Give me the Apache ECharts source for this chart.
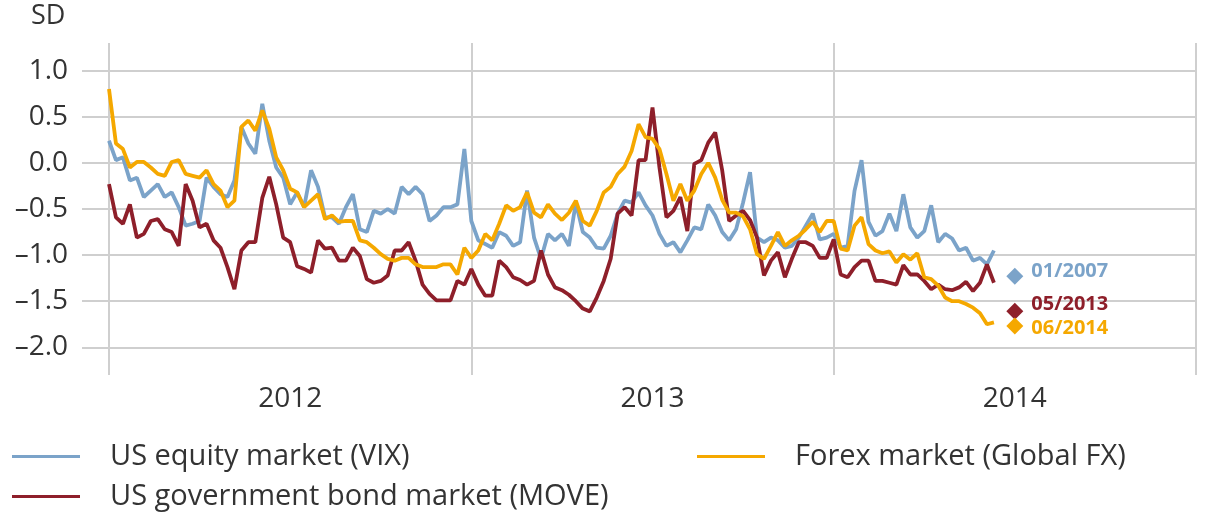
<!DOCTYPE html>
<html>
<head>
<meta charset="utf-8">
<script src="https://cdn.jsdelivr.net/npm/echarts@6/dist/echarts.min.js"></script>
<style>
html,body{margin:0;padding:0;background:#fff}
#main{width:1222px;height:515px}
</style>
</head>
<body>
<div id="main"></div>
<script>
// weekly readings, first week of 2012 onwards
var yearStart = 2012;
var weeksPerYear = 52;
var yTicks = [-2, -1.5, -1, -0.5, 0, 0.5, 1];
var yearTicks = [2012, 2013, 2014, 2015];
var yearLabelPos = [2012.5, 2013.5, 2014.5];

var vix = [
	0.24, 0.03, 0.06, -0.19, -0.16, -0.37, -0.30, -0.23, -0.37, -0.32,
	-0.48, -0.68, -0.66, -0.63, -0.16, -0.26, -0.34, -0.37, -0.19, 0.39,
	0.21, 0.10, 0.64, 0.24, -0.05, -0.16, -0.45, -0.32, -0.48, -0.08,
	-0.26, -0.59, -0.59, -0.66, -0.48, -0.34, -0.72, -0.75, -0.52, -0.55,
	-0.50, -0.55, -0.26, -0.34, -0.26, -0.34, -0.63, -0.57, -0.48, -0.48,
	-0.45, 0.15, -0.63, -0.84, -0.88, -0.92, -0.75, -0.79, -0.90, -0.86,
	-0.30, -0.81, -1.04, -0.77, -0.84, -0.77, -0.90, -0.43, -0.75, -0.81,
	-0.92, -0.93, -0.79, -0.55, -0.41, -0.43, -0.32, -0.46, -0.57, -0.77,
	-0.90, -0.86, -0.97, -0.84, -0.70, -0.72, -0.45, -0.57, -0.75, -0.84,
	-0.72, -0.43, -0.10, -0.81, -0.86, -0.81, -0.84, -0.92, -0.90, -0.81,
	-0.68, -0.55, -0.83, -0.81, -0.77, -0.92, -0.90, -0.30, 0.03, -0.64,
	-0.79, -0.74, -0.55, -0.74, -0.34, -0.70, -0.81, -0.74, -0.46, -0.86,
	-0.77, -0.82, -0.95, -0.92, -1.06, -1.03, -1.10, -0.95
];
var move = [
	-0.23, -0.59, -0.66, -0.45, -0.81, -0.77, -0.63, -0.61, -0.72, -0.75,
	-0.90, -0.23, -0.41, -0.70, -0.66, -0.84, -0.92, -1.13, -1.37, -0.95,
	-0.86, -0.86, -0.38, -0.15, -0.45, -0.81, -0.86, -1.12, -1.15, -1.19,
	-0.84, -0.93, -0.92, -1.06, -1.06, -0.92, -1.01, -1.26, -1.30, -1.28,
	-1.22, -0.95, -0.95, -0.86, -1.06, -1.32, -1.42, -1.49, -1.49, -1.49,
	-1.28, -1.32, -1.15, -1.32, -1.44, -1.44, -1.06, -1.13, -1.24, -1.27,
	-1.32, -1.28, -0.95, -1.21, -1.35, -1.38, -1.43, -1.50, -1.58, -1.61,
	-1.46, -1.28, -1.04, -0.55, -0.48, -0.57, 0.03, 0.03, 0.60, -0.05,
	-0.59, -0.52, -0.37, -0.74, -0.01, 0.03, 0.22, 0.33, -0.08, -0.63,
	-0.57, -0.52, -0.62, -0.81, -1.22, -1.06, -0.97, -1.24, -1.04, -0.86,
	-0.86, -0.90, -1.03, -1.03, -0.83, -1.21, -1.24, -1.13, -1.06, -1.06,
	-1.28, -1.28, -1.30, -1.32, -1.11, -1.21, -1.21, -1.28, -1.37, -1.32,
	-1.37, -1.38, -1.35, -1.29, -1.39, -1.30, -1.10, -1.30
];
var fx = [
	0.80, 0.21, 0.15, -0.05, 0.01, 0.01, -0.05, -0.12, -0.14, 0.01,
	0.03, -0.12, -0.14, -0.16, -0.08, -0.23, -0.30, -0.48, -0.41, 0.39,
	0.46, 0.35, 0.57, 0.37, 0.06, -0.08, -0.28, -0.32, -0.48, -0.41,
	-0.34, -0.61, -0.57, -0.64, -0.63, -0.63, -0.84, -0.86, -0.92, -0.99,
	-1.04, -1.06, -1.03, -1.03, -1.10, -1.13, -1.13, -1.13, -1.10, -1.10,
	-1.21, -0.92, -1.03, -0.95, -0.77, -0.84, -0.66, -0.46, -0.52, -0.48,
	-0.32, -0.54, -0.59, -0.45, -0.55, -0.62, -0.54, -0.41, -0.63, -0.68,
	-0.52, -0.32, -0.26, -0.12, -0.04, 0.13, 0.42, 0.28, 0.26, 0.15,
	-0.12, -0.41, -0.23, -0.41, -0.30, -0.12, 0.00, -0.16, -0.40, -0.54,
	-0.54, -0.58, -0.72, -0.99, -1.04, -0.90, -0.75, -0.90, -0.84, -0.79,
	-0.72, -0.64, -0.75, -0.63, -0.63, -0.93, -0.95, -0.68, -0.59, -0.88,
	-0.95, -0.98, -0.96, -1.08, -0.99, -1.05, -0.98, -1.24, -1.26, -1.33,
	-1.46, -1.50, -1.50, -1.53, -1.57, -1.63, -1.75, -1.73
];

// "highest since" markers at the right end
var peakX = 2014.5;
var peakValues = [-1.23, -1.61, -1.77];
var peakLabels = ['01/2007', '05/2013', '06/2014'];

var names = ['US equity market (VIX)', 'US government bond market (MOVE)', 'Forex market (Global FX)'];
var colors = ['#7ba3c9', '#8e1f2a', '#f5a800'];
var font = '"Open Sans", Roboto, sans-serif';

function toPoints(values){
	return values.map(function (v, i){
		return [yearStart + i / weeksPerYear, v];
	});
}

function lineSeries(idx, values){
	return {
		name: names[idx],
		type: 'line',
		data: toPoints(values),
		showSymbol: false,
		symbol: 'none',
		lineStyle: {color: colors[idx], width: 3.8},
		itemStyle: {color: colors[idx]},
		z: 2 + idx
	};
}

function legendAt(left, top, name){
	return {
		left: left,
		top: top,
		padding: 0,
		data: [name],
		icon: 'rect',
		itemWidth: 68,
		itemHeight: 3,
		selectedMode: false,
		textStyle: {fontSize: 29, color: '#333', fontFamily: font, padding: [0, 0, 0, 25]}
	};
}

var labelOffsets = [[0, -5], [0, -7], [0, 2]];
var peakData = peakValues.map(function (v, i){
	return {
		name: peakLabels[i],
		value: [peakX, v],
		itemStyle: {color: colors[i], opacity: 1},
		label: {color: colors[i], offset: labelOffsets[i]}
	};
});

var option = {
	animation: false,
	title: {
		text: 'SD',
		left: 31,
		top: 3,
		padding: 0,
		textStyle: {fontSize: 27, fontWeight: 'normal', color: '#333', fontFamily: font}
	},
	legend: [
		legendAt(12, 442, names[0]),
		legendAt(697, 442, names[2]),
		legendAt(12, 482, names[1])
	],
	grid: {left: 82, right: 26, top: 43, bottom: 140},
	xAxis: {
		type: 'value',
		min: 2011.9255,
		max: 2015,
		axisLine: {show: false},
		axisTick: {show: false, customValues: yearTicks},
		axisLabel: {
			customValues: yearLabelPos,
			margin: 10,
			fontSize: 28,
			color: '#333',
			fontFamily: font,
			formatter: function (v){ return String(Math.floor(v)); }
		},
		splitLine: {show: true, lineStyle: {color: '#cfcfcf', width: 2}}
	},
	yAxis: {
		type: 'value',
		min: -2.3,
		max: 1.3,
		axisLine: {show: false},
		axisTick: {show: false, customValues: yTicks},
		axisLabel: {
			customValues: yTicks,
			margin: 14,
			fontSize: 28,
			color: '#333',
			fontFamily: font,
			formatter: function (v){ return v.toFixed(1).replace('-', '\u2013'); }
		},
		splitLine: {show: true, lineStyle: {color: '#cfcfcf', width: 2}}
	},
	series: [
		lineSeries(0, vix),
		lineSeries(1, move),
		lineSeries(2, fx),
		{
			name: 'peaks',
			type: 'scatter',
			symbol: 'diamond',
			symbolSize: 17,
			data: peakData,
			z: 10,
			label: {
				show: true,
				position: 'right',
				distance: 8,
				fontSize: 20,
				fontWeight: 'bold',
				fontFamily: font,
				formatter: '{b}'
			}
		}
	]
};

var myChart = echarts.init(document.getElementById('main'));
myChart.setOption(option);
</script>
</body>
</html>
